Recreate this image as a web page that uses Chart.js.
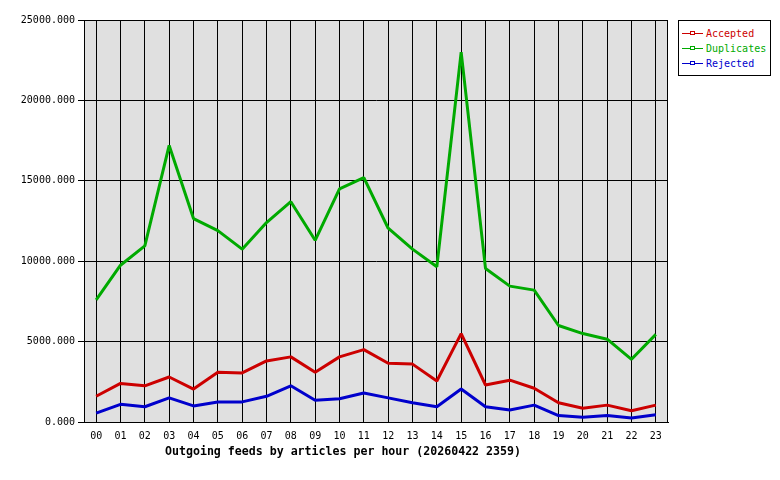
<!DOCTYPE html>
<html>
<head>
<meta charset="utf-8">
<script src="https://cdn.jsdelivr.net/npm/chart.js@4/dist/chart.umd.min.js"></script>
<style>
  body { margin: 0; background: #fff; }
  #wrap { position: relative; width: 780px; height: 480px; }
  .mono { font-family: 'DejaVu Sans Mono', monospace; }
  #caption { position: absolute; left: 165px; top: 444px; font-size: 11.6px; font-weight: bold; color: #000; white-space: nowrap; }
  #legend { position: absolute; left: 678px; top: 20px; width: 91px; height: 54px; border: 1px solid #000; background: #fff; }
  .item { position: absolute; left: 3px; height: 15px; font-size: 10px; line-height: 15px; white-space: nowrap; }
  .swatch { display: inline-block; position: relative; width: 21px; height: 15px; vertical-align: top; margin-right: 3px; }
  .swatch .ln { display: block; position: absolute; left: 0; top: 7px; width: 21px; height: 1px; }
  .swatch .mk { display: block; position: absolute; left: 8px; top: 5px; width: 3px; height: 2px; border-width: 1px; border-style: solid; background: #fff; }
</style>
</head>
<body>
<div id="wrap">
  <canvas id="feedChart" width="780" height="480"></canvas>
  <div id="caption" class="mono">Outgoing feeds by articles per hour (20260422 2359)</div>
  <div id="legend" class="mono"></div>
</div>
<script>
const hours = ['00','01','02','03','04','05','06','07','08','09','10','11',
               '12','13','14','15','16','17','18','19','20','21','22','23'];
const seriesNames = ['Accepted', 'Duplicates', 'Rejected'];
const accepted   = [1600, 2400, 2250, 2800, 2050, 3100, 3050, 3800, 4050, 3100, 4050, 4500,
                    3650, 3600, 2550, 5500, 2300, 2600, 2100, 1200, 850, 1050, 700, 1050];
const duplicates = [7600, 9750, 10950, 17200, 12650, 11900, 10750, 12400, 13700, 11300, 14500, 15200,
                    12050, 10750, 9650, 23000, 9550, 8450, 8200, 6000, 5500, 5150, 3900, 5450];
const rejected   = [550, 1100, 950, 1500, 1000, 1250, 1250, 1600, 2250, 1350, 1450, 1800,
                    1500, 1200, 950, 2050, 950, 750, 1050, 400, 300, 400, 250, 450];
const yTicks = [0, 5000, 10000, 15000, 20000, 25000];
const colors = ['#cc0000', '#00aa00', '#0000cc'];

const font = "'DejaVu Sans Mono', monospace";

// grey plot background plus the right-hand border
const plotFrame = {
    id: 'plotFrame',
    beforeDraw(chart) {
        const a = chart.chartArea, ctx = chart.ctx;
        ctx.save();
        ctx.fillStyle = '#e0e0e0';
        ctx.fillRect(a.left, a.top, a.right - a.left, a.bottom - a.top);
        ctx.restore();
    },
    beforeDatasetsDraw(chart) {
        const a = chart.chartArea, ctx = chart.ctx;
        ctx.save();
        ctx.strokeStyle = '#000';
        ctx.lineWidth = 1;
        ctx.strokeRect(a.left + 0.5, a.top + 0.5, a.right - a.left - 1, a.bottom - a.top);
        ctx.restore();
    }
};

const allSeries = [accepted, duplicates, rejected];

new Chart(document.getElementById('feedChart').getContext('2d'), {
    type: 'line',
    data: {
        labels: hours,
        datasets: seriesNames.map((name, i) => ({
            label: name,
            data: allSeries[i],
            borderColor: colors[i],
            backgroundColor: colors[i],
            borderWidth: 3,
            borderJoinStyle: 'bevel',
            pointRadius: 0,
            tension: 0,
            fill: false
        }))
    },
    options: {
        responsive: false,
        animation: false,
        layout: { padding: { top: 20, right: 112, bottom: 0, left: 0 } },
        plugins: {
            legend: { display: false },
            tooltip: { enabled: false }
        },
        scales: {
            x: {
                offset: true,
                grid: { color: '#000', lineWidth: 1, drawTicks: false, offset: false },
                border: { color: '#000' },
                ticks: { color: '#000', padding: 8, font: { family: font, size: 10 }, maxRotation: 0, autoSkip: false },
                afterFit: s => { s.height = 58; }
            },
            y: {
                min: yTicks[0],
                max: yTicks[yTicks.length - 1],
                afterBuildTicks: s => { s.ticks = yTicks.map(v => ({ value: v })); },
                grid: { color: '#000', lineWidth: 1, tickLength: 6 },
                border: { color: '#000' },
                ticks: {
                    color: '#000', padding: 3,
                    font: { family: font, size: 10 },
                    callback: v => Number(v).toFixed(3)
                },
                afterFit: s => { s.width = 84; }
            }
        }
    },
    plugins: [plotFrame]
});

// legend box
const legend = document.getElementById('legend');
seriesNames.forEach((name, i) => {
    const item = document.createElement('div');
    item.className = 'item';
    item.style.top = (5 + i * 15) + 'px';
    item.style.color = colors[i];
    item.innerHTML = `<span class="swatch"><span class="ln" style="background-color:${colors[i]}"></span>` +
        `<span class="mk" style="border-color:${colors[i]}"></span></span>${name}`;
    legend.appendChild(item);
});
</script>
</body>
</html>
